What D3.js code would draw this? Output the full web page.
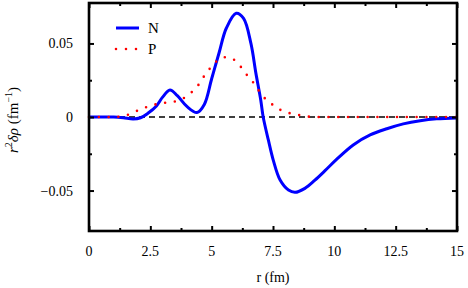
<!DOCTYPE html>
<html>
<head>
<meta charset="utf-8">
<script src="https://cdn.jsdelivr.net/npm/d3@7"></script>
<style>
  body { margin: 0; background: #fff; }
  svg { display: block; }
</style>
</head>
<body>
<svg id="chart" width="468" height="288"></svg>
<script>
// neutron density difference r^2 δρ_N
const rN = [0, 0.5, 1.0, 1.4, 1.8, 2.1, 2.4, 2.75, 3.0, 3.3, 3.6, 4.0, 4.4, 4.7, 5.0, 5.3, 5.6, 6.0, 6.3, 6.6, 6.8, 7.0, 7.1, 7.31, 7.51, 7.79, 8.13, 8.4, 8.8, 9.21, 9.62, 10.08, 10.77, 11.46, 12.14, 12.81, 13.5, 14.17, 15];
const nVals = [0, 0, 0, -0.0005, -0.0013, -0.0005, 0.0025, 0.0075, 0.0135, 0.0184, 0.0145, 0.007, 0.003, 0.0085, 0.026, 0.0435, 0.0605, 0.0705, 0.067, 0.05, 0.03, 0.0116, 0, -0.0156, -0.0293, -0.0429, -0.0497, -0.0512, -0.0485, -0.0429, -0.0365, -0.029, -0.019, -0.0122, -0.008, -0.0047, -0.0025, -0.0012, -0.0006];

// proton density difference r^2 δρ_P
const rP = [0, 0.5, 1.15, 1.56, 1.9, 2.3, 2.69, 3.07, 3.46, 3.85, 4.16, 4.46, 4.66, 4.9, 5.18, 5.52, 5.88, 6.16, 6.4, 6.67, 6.9, 7.13, 7.45, 7.76, 8.12, 8.53, 8.9, 9.5, 15];
const pVals = [0, 0, 0.0001, 0.0014, 0.0038, 0.0065, 0.0085, 0.0096, 0.0104, 0.0127, 0.0165, 0.0218, 0.027, 0.0324, 0.0376, 0.0406, 0.0392, 0.0347, 0.0293, 0.024, 0.0184, 0.0134, 0.0088, 0.0052, 0.0029, 0.0014, 0.0003, 0, 0];

const xMajor = [0, 2.5, 5, 7.5, 10, 12.5, 15];
const xMinor = [1.25, 3.75, 6.25, 8.75, 11.25, 13.75];
const yMajor = [-0.05, 0, 0.05];
const yMinor = [-0.025, 0.025];

const svg = d3.select("#chart");
const pLeft = 89, pRight = 457, pTop = 3, pBottom = 231;
const serif = "'Liberation Serif', 'DejaVu Serif', serif";

const x = d3.scaleLinear().domain([0, 15]).range([pLeft, pRight]);
const y = d3.scaleLinear().domain([-0.0775, 0.0775]).range([pBottom, pTop]);

// zero line
svg.append("line")
  .attr("x1", x(0)).attr("x2", x(15))
  .attr("y1", y(0)).attr("y2", y(0))
  .attr("stroke", "#000")
  .attr("stroke-width", 1.4)
  .attr("stroke-dasharray", "6 4");

const lineN = d3.line()
  .x((d) => x(d[0]))
  .y((d) => y(d[1]))
  .curve(d3.curveCatmullRom.alpha(0.5));

const lineP = d3.line()
  .x((d) => x(d[0]))
  .y((d) => y(d[1]))
  .curve(d3.curveMonotoneX);

svg.append("path")
  .datum(rN.map((r, i) => [r, nVals[i]]))
  .attr("d", lineN)
  .attr("fill", "none")
  .attr("stroke", "#0000ff")
  .attr("stroke-width", 3);

svg.append("path")
  .datum(rP.map((r, i) => [r, pVals[i]]))
  .attr("d", lineP)
  .attr("fill", "none")
  .attr("stroke", "#ff0000")
  .attr("stroke-width", 2.6)
  .attr("stroke-linecap", "round")
  .attr("stroke-dasharray", "0 9.8");

// ticks, all four sides, pointing inward
function ticks(g, axis, vals, size) {
  g.call(axis.tickValues(vals).tickSize(size).tickFormat(""))
    .call((s) => s.select(".domain").remove())
    .selectAll("line").attr("stroke", "#000").attr("stroke-width", 2);
}
ticks(svg.append("g").attr("transform", `translate(0,${pBottom})`), d3.axisBottom(x), xMajor, -5);
ticks(svg.append("g").attr("transform", `translate(0,${pBottom})`), d3.axisBottom(x), xMinor, -3);
ticks(svg.append("g").attr("transform", `translate(0,${pTop})`), d3.axisTop(x), xMajor, -5);
ticks(svg.append("g").attr("transform", `translate(0,${pTop})`), d3.axisTop(x), xMinor, -3);
ticks(svg.append("g").attr("transform", `translate(${pLeft},0)`), d3.axisLeft(y), yMajor, -5);
ticks(svg.append("g").attr("transform", `translate(${pLeft},0)`), d3.axisLeft(y), yMinor, -3);
ticks(svg.append("g").attr("transform", `translate(${pRight},0)`), d3.axisRight(y), yMajor, -5);
ticks(svg.append("g").attr("transform", `translate(${pRight},0)`), d3.axisRight(y), yMinor, -3);

// frame
svg.append("rect")
  .attr("x", pLeft).attr("y", pTop)
  .attr("width", pRight - pLeft).attr("height", pBottom - pTop)
  .attr("fill", "none")
  .attr("stroke", "#000")
  .attr("stroke-width", 2.6);

// tick labels
const fmt = d3.format("~g");
svg.append("g").selectAll("text")
  .data(xMajor).enter().append("text")
  .attr("x", (d) => x(d))
  .attr("y", 256)
  .attr("text-anchor", "middle")
  .attr("font-family", serif)
  .attr("font-size", 14)
  .text(fmt);

svg.append("g").selectAll("text")
  .data(yMajor).enter().append("text")
  .attr("x", 73)
  .attr("y", (d) => y(d) + 5)
  .attr("text-anchor", "end")
  .attr("font-family", serif)
  .attr("font-size", 14)
  .text(fmt);

// axis titles
svg.append("text")
  .attr("x", (pLeft + pRight) / 2)
  .attr("y", 282)
  .attr("text-anchor", "middle")
  .attr("font-family", serif)
  .attr("font-size", 14)
  .text("r (fm)");

const yt = svg.append("text")
  .attr("transform", "translate(18,120) rotate(-90)")
  .attr("text-anchor", "middle")
  .attr("font-family", serif)
  .attr("font-size", 15);
yt.append("tspan").attr("font-style", "italic").text("r");
yt.append("tspan").attr("dy", -6).attr("font-size", 10).text("2");
yt.append("tspan").attr("dy", 6).attr("font-style", "italic").text("δρ");
yt.append("tspan").text(" (fm");
yt.append("tspan").attr("dy", -6).attr("font-size", 10).text("−1");
yt.append("tspan").attr("dy", 6).text(")");

// legend
const legend = svg.append("g");
legend.append("line")
  .attr("x1", 116).attr("x2", 139).attr("y1", 28).attr("y2", 28)
  .attr("stroke", "#0000ff").attr("stroke-width", 3);
legend.append("line")
  .attr("x1", 116).attr("x2", 137).attr("y1", 49).attr("y2", 49)
  .attr("stroke", "#ff0000").attr("stroke-width", 2.6)
  .attr("stroke-linecap", "round").attr("stroke-dasharray", "0 10");
legend.append("text").attr("x", 148).attr("y", 33)
  .attr("font-family", serif).attr("font-size", 15).text("N");
legend.append("text").attr("x", 148).attr("y", 54)
  .attr("font-family", serif).attr("font-size", 15).text("P");
</script>
</body>
</html>
